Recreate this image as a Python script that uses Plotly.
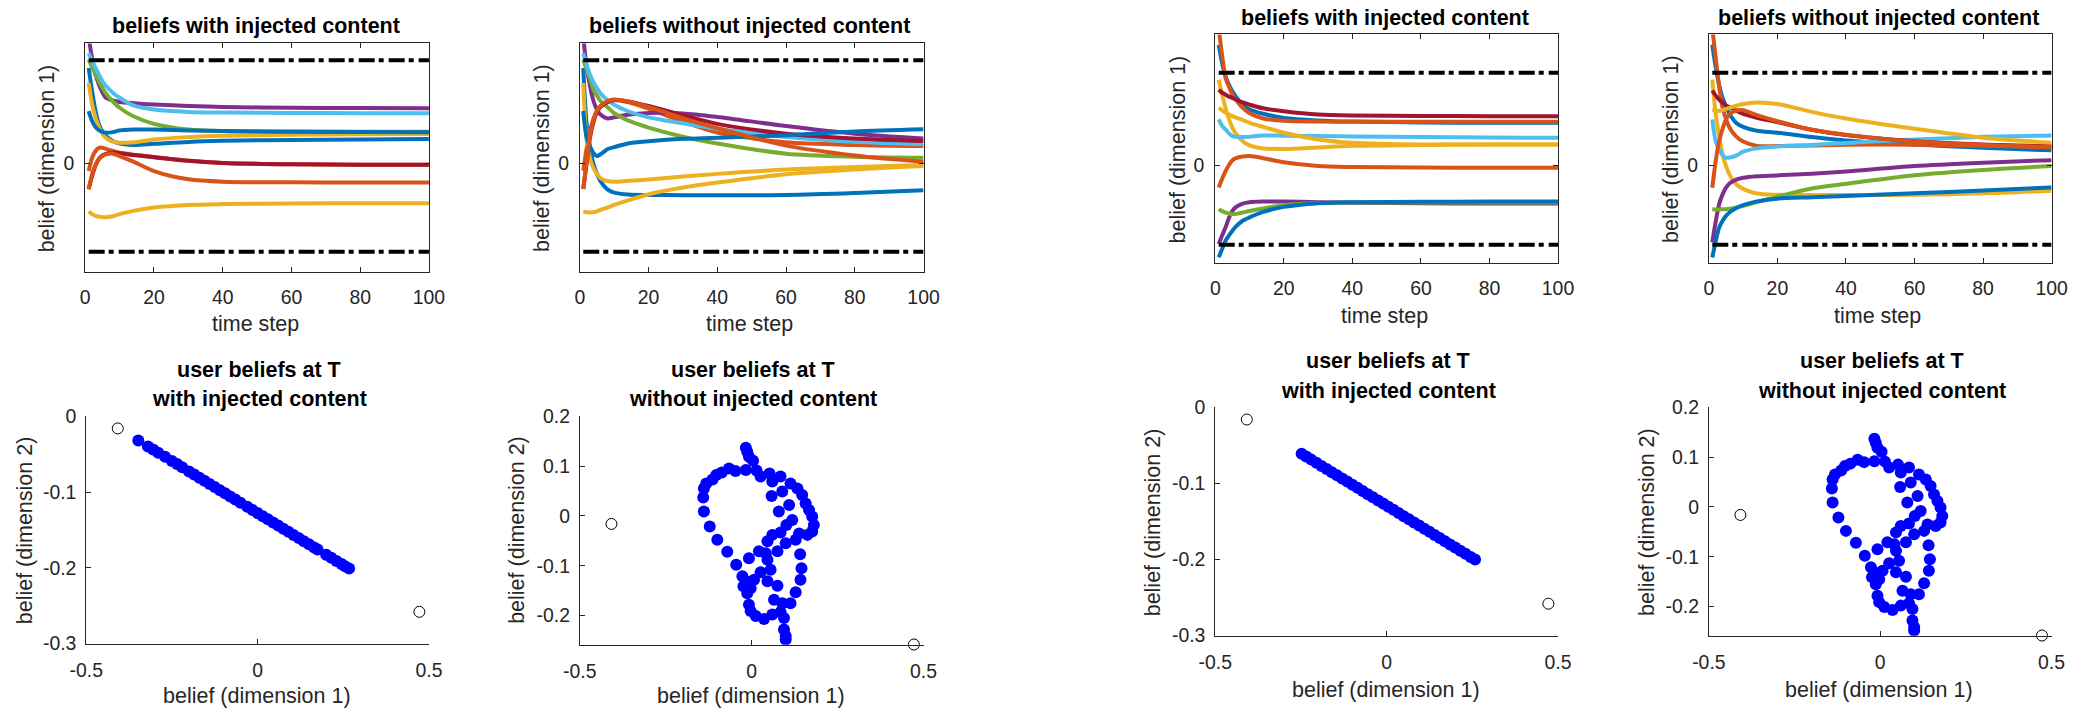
import plotly.graph_objects as go

W, H = 2084, 713

# ---------------- data ----------------
TIME = [1, 2, 3, 4, 5, 6, 8, 10, 14, 20, 30, 40, 60, 80, 100]
LINE_COLORS = ["#0072BD", "#D95319", "#EDB120", "#7E2F8E", "#77AC30",
               "#4DBEEE", "#A2142F", "#0072BD", "#D95319", "#EDB120"]

# injected content positions (dimension 1, dimension 2)
CONTENT_D1 = [-0.408, 0.472]
CONTENT_D2 = [-0.016, -0.258]

# run A, with injected content (10 users)
A_WITH = [
    [0.437, 0.33, 0.239, 0.177, 0.145, 0.124, 0.101, 0.09, 0.083, 0.088, 0.097, 0.102, 0.106, 0.108, 0.11],
    [-0.037, 0.024, 0.055, 0.07, 0.07, 0.065, 0.055, 0.047, 0.038, 0.028, 0.01, 0.0, -0.006, -0.008, -0.008],
    [0.368, 0.269, 0.208, 0.165, 0.135, 0.115, 0.098, 0.093, 0.095, 0.108, 0.119, 0.125, 0.13, 0.132, 0.133],
    [0.58, 0.48, 0.407, 0.36, 0.325, 0.3, 0.288, 0.281, 0.275, 0.269, 0.262, 0.258, 0.254, 0.253, 0.252],
    [0.476, 0.44, 0.407, 0.375, 0.346, 0.32, 0.284, 0.254, 0.215, 0.18, 0.154, 0.147, 0.145, 0.144, 0.144],
    [0.506, 0.47, 0.437, 0.405, 0.376, 0.355, 0.323, 0.30, 0.265, 0.246, 0.235, 0.232, 0.23, 0.229, 0.229],
    [-0.12, -0.06, -0.01, 0.02, 0.035, 0.042, 0.048, 0.045, 0.037, 0.026, 0.01, 0.0, -0.006, -0.008, -0.008],
    [0.239, 0.193, 0.165, 0.15, 0.143, 0.139, 0.142, 0.15, 0.154, 0.154, 0.15, 0.147, 0.144, 0.142, 0.141],
    [-0.121, -0.052, -0.01, 0.017, 0.032, 0.04, 0.043, 0.032, 0.006, -0.037, -0.075, -0.086, -0.089, -0.09, -0.09],
    [-0.223, -0.235, -0.243, -0.247, -0.249, -0.249, -0.245, -0.235, -0.22, -0.205, -0.193, -0.189, -0.186, -0.185, -0.185],
]

# run A, without injected content
A_WITHOUT = [
    [0.437, 0.177, 0.07, -0.006, -0.05, -0.083, -0.121, -0.136, -0.145, -0.147, -0.148, -0.148, -0.147, -0.138, -0.125],
    [-0.035, 0.07, 0.15, 0.205, 0.24, 0.26, 0.282, 0.29, 0.28, 0.25, 0.19, 0.14, 0.095, 0.083, 0.078],
    [0.368, 0.101, 0.02, -0.025, -0.05, -0.07, -0.083, -0.086, -0.082, -0.076, -0.062, -0.05, -0.03, -0.018, -0.009],
    [0.58, 0.44, 0.35, 0.284, 0.245, 0.223, 0.205, 0.21, 0.222, 0.23, 0.228, 0.212, 0.17, 0.135, 0.113],
    [0.476, 0.43, 0.384, 0.335, 0.31, 0.285, 0.258, 0.229, 0.196, 0.163, 0.121, 0.09, 0.043, 0.029, 0.024],
    [0.506, 0.45, 0.405, 0.37, 0.343, 0.32, 0.29, 0.268, 0.238, 0.21, 0.183, 0.158, 0.12, 0.098, 0.086],
    [-0.12, 0.0, 0.12, 0.19, 0.235, 0.258, 0.28, 0.289, 0.283, 0.262, 0.22, 0.18, 0.135, 0.113, 0.101],
    [0.239, 0.116, 0.075, 0.045, 0.032, 0.04, 0.063, 0.073, 0.09, 0.1, 0.111, 0.116, 0.128, 0.145, 0.155],
    [-0.12, 0.01, 0.13, 0.2, 0.24, 0.262, 0.284, 0.292, 0.283, 0.258, 0.205, 0.16, 0.08, 0.035, 0.006],
    [-0.223, -0.226, -0.228, -0.226, -0.222, -0.215, -0.205, -0.193, -0.172, -0.144, -0.113, -0.09, -0.052, -0.03, -0.014],
]

# run B, with injected content
B_WITH = [
    [0.615, 0.52, 0.453, 0.41, 0.377, 0.35, 0.309, 0.284, 0.262, 0.241, 0.228, 0.222, 0.218, 0.216, 0.216],
    [0.70, 0.56, 0.445, 0.40, 0.36, 0.335, 0.292, 0.265, 0.238, 0.226, 0.222, 0.221, 0.221, 0.221, 0.221],
    [0.436, 0.36, 0.292, 0.235, 0.19, 0.16, 0.122, 0.1, 0.085, 0.082, 0.09, 0.098, 0.103, 0.105, 0.105],
    [-0.404, -0.36, -0.319, -0.27, -0.234, -0.215, -0.197, -0.19, -0.187, -0.187, -0.19, -0.193, -0.196, -0.197, -0.197],
    [-0.226, -0.236, -0.243, -0.248, -0.251, -0.25, -0.243, -0.235, -0.222, -0.206, -0.194, -0.192, -0.192, -0.192, -0.192],
    [0.233, 0.2, 0.182, 0.162, 0.148, 0.145, 0.143, 0.145, 0.151, 0.15, 0.148, 0.146, 0.143, 0.141, 0.139],
    [0.385, 0.37, 0.36, 0.35, 0.343, 0.335, 0.32, 0.309, 0.29, 0.275, 0.258, 0.253, 0.251, 0.25, 0.25],
    [-0.472, -0.43, -0.387, -0.36, -0.336, -0.315, -0.285, -0.268, -0.24, -0.214, -0.195, -0.19, -0.188, -0.187, -0.187],
    [-0.115, -0.07, -0.031, 0.0, 0.024, 0.035, 0.044, 0.046, 0.035, 0.014, -0.005, -0.01, -0.013, -0.014, -0.014],
    [0.292, 0.28, 0.267, 0.258, 0.25, 0.243, 0.23, 0.216, 0.195, 0.165, 0.131, 0.114, 0.105, 0.105, 0.105],
]

# run B, without injected content
B_WITHOUT = [
    [0.616, 0.5, 0.41, 0.344, 0.3, 0.262, 0.215, 0.195, 0.175, 0.165, 0.143, 0.126, 0.105, 0.088, 0.075],
    [0.70, 0.55, 0.40, 0.293, 0.235, 0.192, 0.145, 0.12, 0.098, 0.097, 0.1, 0.104, 0.104, 0.098, 0.092],
    [0.437, 0.26, 0.15, 0.054, -0.005, -0.048, -0.1, -0.122, -0.146, -0.152, -0.153, -0.153, -0.152, -0.145, -0.132],
    [-0.396, -0.29, -0.2, -0.15, -0.116, -0.095, -0.075, -0.065, -0.057, -0.053, -0.045, -0.033, -0.005, 0.012, 0.025],
    [-0.226, -0.227, -0.227, -0.226, -0.226, -0.224, -0.218, -0.209, -0.19, -0.162, -0.12, -0.096, -0.052, -0.025, -0.005],
    [0.233, 0.122, 0.08, 0.05, 0.037, 0.038, 0.048, 0.068, 0.085, 0.095, 0.103, 0.113, 0.13, 0.144, 0.151],
    [0.381, 0.355, 0.335, 0.318, 0.305, 0.295, 0.278, 0.262, 0.242, 0.22, 0.18, 0.153, 0.122, 0.105, 0.097],
    [-0.473, -0.39, -0.32, -0.285, -0.26, -0.243, -0.22, -0.205, -0.186, -0.172, -0.165, -0.158, -0.145, -0.13, -0.115],
    [-0.116, 0.02, 0.122, 0.185, 0.233, 0.26, 0.279, 0.28, 0.255, 0.224, 0.18, 0.155, 0.12, 0.102, 0.092],
    [0.284, 0.28, 0.276, 0.28, 0.286, 0.292, 0.303, 0.312, 0.32, 0.312, 0.272, 0.238, 0.185, 0.14, 0.114],
]

# final beliefs at T, with injected content (run A)
FINAL_A_X = [-0.348, -0.32, -0.305, -0.29, -0.27, -0.25, -0.235, -0.22, -0.2, -0.185, -0.17, -0.155,
             -0.14, -0.125, -0.11, -0.095, -0.08, -0.065, -0.05, -0.03, -0.015, 0.0, 0.015, 0.03,
             0.045, 0.06, 0.075, 0.09, 0.105, 0.12, 0.135, 0.15, 0.165, 0.175, 0.2, 0.215, 0.23,
             0.245, 0.255, 0.267]
FINAL_A_Y = [-0.032, -0.0397, -0.0438, -0.048, -0.0535, -0.059, -0.063, -0.0672, -0.0727, -0.0768,
             -0.081, -0.0851, -0.0892, -0.0933, -0.0975, -0.1016, -0.1057, -0.1098, -0.114, -0.1195,
             -0.1236, -0.1277, -0.1318, -0.136, -0.1401, -0.1442, -0.1483, -0.1525, -0.1566, -0.1607,
             -0.1648, -0.169, -0.1731, -0.1758, -0.1827, -0.1868, -0.1909, -0.195, -0.1978, -0.201]

# final beliefs at T, with injected content (run B)
FINAL_B_X = [-0.248, -0.235, -0.22, -0.205, -0.19, -0.175, -0.16, -0.145, -0.13, -0.115, -0.1,
             -0.085, -0.07, -0.055, -0.04, -0.025, -0.01, 0.005, 0.02, 0.035, 0.05, 0.065, 0.08,
             0.095, 0.11, 0.125, 0.14, 0.155, 0.17, 0.185, 0.2, 0.215, 0.23, 0.245, 0.258]
FINAL_B_Y = [-0.061, -0.0646, -0.0687, -0.0728, -0.077, -0.0811, -0.0852, -0.0893, -0.0935, -0.0976,
             -0.1017, -0.1058, -0.11, -0.1141, -0.1182, -0.1223, -0.1265, -0.1306, -0.1347, -0.1388,
             -0.143, -0.1471, -0.1512, -0.1553, -0.1595, -0.1636, -0.1677, -0.1718, -0.176, -0.1801,
             -0.1842, -0.1883, -0.1925, -0.1966, -0.2]

# final beliefs at T, without injected content
CLOUD_X = [-0.017, -0.013, -0.008, 0.004, -0.017, -0.047, -0.066, -0.087, -0.103, -0.114, -0.132,
           -0.139, -0.141, -0.139, -0.122, -0.1, -0.071, -0.045, 0.014, 0.026, 0.052, 0.06, 0.084,
           0.113, 0.133, 0.147, 0.157, 0.167, 0.176, 0.181, 0.176, 0.162, 0.138, 0.058, 0.089,
           0.109, 0.079, 0.118, 0.101, 0.084, 0.06, 0.046, 0.075, 0.099, 0.128, 0.141, 0.145,
           0.142, 0.128, -0.008, 0.021, 0.041, 0.046, 0.055, 0.026, 0.007, -0.027, -0.024, -0.013,
           -0.008, -0.003, 0.012, 0.036, 0.06, 0.084, 0.094, 0.065, 0.089, 0.113, 0.075, 0.046,
           0.094, 0.099, 0.099, -0.017, -0.003]
CLOUD_Y = [0.137, 0.129, 0.119, 0.111, 0.092, 0.09, 0.095, 0.087, 0.082, 0.073, 0.065, 0.055,
           0.037, 0.009, -0.021, -0.048, -0.072, -0.098, 0.091, 0.079, 0.085, 0.069, 0.079, 0.065,
           0.055, 0.042, 0.025, 0.012, -0.001, -0.018, -0.031, -0.038, -0.035, 0.04, 0.049, 0.022,
           0.009, -0.008, -0.018, -0.033, -0.038, -0.051, -0.071, -0.055, -0.048, -0.077, -0.105,
           -0.128, -0.153, -0.085, -0.071, -0.075, -0.088, -0.108, -0.113, -0.128, -0.121, -0.141,
           -0.155, -0.178, -0.191, -0.201, -0.207, -0.198, -0.193, -0.205, -0.168, -0.175, -0.175,
           -0.14, -0.131, -0.228, -0.241, -0.248, -0.131, -0.145]

TIME_TICKS = [0, 20, 40, 60, 80, 100]
D1_TICKS = [-0.5, 0, 0.5]
D1_TICKTEXT = ["-0.5", "0", "0.5"]
D2_TICKS_WITH = [-0.3, -0.2, -0.1, 0]
D2_TICKTEXT_WITH = ["-0.3", "-0.2", "-0.1", "0"]
D2_TICKS_WITHOUT = [-0.2, -0.1, 0, 0.1, 0.2]
D2_TICKTEXT_WITHOUT = ["-0.2", "-0.1", "0", "0.1", "0.2"]

# ---------------- layout helpers ----------------
FONT = "Liberation Sans, Arial, Helvetica, sans-serif"
AX_COLOR = "#262626"
# compensation for the slight shrink seen in the rendered capture
SX, OX = 0.985, 14.7
SY, OY = 0.972, 9.5
TICK_SIZE = 19.4
LABEL_SIZE = 21.5


def fx(px):
    return ((px - OX) / SX) / W


def fy(py):
    return 1 - ((py - OY) / SY) / H


def dom_x(l, r):
    return [fx(l), fx(r)]


def dom_y(t, b):
    return [fy(b), fy(t)]


fig = go.Figure()

top_panels = [
    (A_WITH, 1, (83, 427), (42, 271), [-0.5, 0.55]),
    (A_WITHOUT, 2, (578, 922), (42, 271), [-0.5, 0.55]),
    (B_WITH, 3, (1214, 1557), (33, 262), [-0.5, 0.668]),
    (B_WITHOUT, 4, (1708, 2051), (33, 262), [-0.5, 0.668]),
]

layout_axes = {}
for series, k, (xl, xr), (yt, yb), yr in top_panels:
    xa = "x" if k == 1 else f"x{k}"
    ya = "y" if k == 1 else f"y{k}"
    for i, vals in enumerate(series):
        fig.add_trace(go.Scatter(
            x=TIME, y=vals, mode="lines", xaxis=xa, yaxis=ya,
            line=dict(color=LINE_COLORS[i], width=4, shape="spline", smoothing=0.8),
            showlegend=False, hoverinfo="skip"))
    for c in CONTENT_D1:
        fig.add_trace(go.Scatter(
            x=[TIME[0], TIME[-1]], y=[c, c], mode="lines", xaxis=xa, yaxis=ya,
            line=dict(color="black", width=4, dash="16px,4px,5px,5px"),
            showlegend=False, hoverinfo="skip"))
    layout_axes[f"xaxis{'' if k == 1 else k}"] = dict(
        domain=dom_x(xl, xr), range=[0, 100], anchor=ya,
        tickvals=TIME_TICKS, ticks="inside", ticklen=5, tickcolor=AX_COLOR,
        showline=True, linecolor=AX_COLOR, linewidth=1, mirror="ticks",
        showgrid=False, zeroline=False, ticklabelstandoff=8,
        tickfont=dict(family=FONT, size=TICK_SIZE, color=AX_COLOR))
    layout_axes[f"yaxis{'' if k == 1 else k}"] = dict(
        domain=dom_y(yt, yb), range=yr, anchor=xa,
        tickvals=[0], ticktext=["0"], ticks="inside", ticklen=5, tickcolor=AX_COLOR,
        showline=True, linecolor=AX_COLOR, linewidth=1, mirror="ticks",
        showgrid=False, zeroline=False, ticklabelstandoff=6,
        tickfont=dict(family=FONT, size=TICK_SIZE, color=AX_COLOR))

bottom_panels = [
    (FINAL_A_X, FINAL_A_Y, 5, (84, 427), (416, 644), [-0.3, 0], D2_TICKS_WITH, D2_TICKTEXT_WITH),
    (CLOUD_X, CLOUD_Y, 6, (578, 922), (416, 645), [-0.2583, 0.2], D2_TICKS_WITHOUT, D2_TICKTEXT_WITHOUT),
    (FINAL_B_X, FINAL_B_Y, 7, (1214, 1557), (407, 636), [-0.3, 0], D2_TICKS_WITH, D2_TICKTEXT_WITH),
    (CLOUD_X, CLOUD_Y, 8, (1708, 2051), (407, 636), [-0.2583, 0.2], D2_TICKS_WITHOUT, D2_TICKTEXT_WITHOUT),
]
for bx, by, k, (xl, xr), (yt, yb), yr, tv, tt in bottom_panels:
    xa, ya = f"x{k}", f"y{k}"
    fig.add_trace(go.Scatter(
        x=bx, y=by, mode="markers", xaxis=xa, yaxis=ya,
        marker=dict(color="#0000FF", size=12, line=dict(width=0)),
        showlegend=False, hoverinfo="skip"))
    fig.add_trace(go.Scatter(
        x=CONTENT_D1, y=CONTENT_D2, mode="markers", xaxis=xa, yaxis=ya, cliponaxis=False,
        marker=dict(color="rgba(0,0,0,0)", size=11, line=dict(color="black", width=1)),
        showlegend=False, hoverinfo="skip"))
    layout_axes[f"xaxis{k}"] = dict(
        domain=dom_x(xl, xr), range=[-0.5, 0.5], anchor=ya,
        tickvals=D1_TICKS, ticktext=D1_TICKTEXT, ticks="inside", ticklen=5, tickcolor=AX_COLOR,
        showline=True, linecolor=AX_COLOR, linewidth=1, mirror=False,
        showgrid=False, zeroline=False, ticklabelstandoff=9,
        tickfont=dict(family=FONT, size=TICK_SIZE, color=AX_COLOR))
    layout_axes[f"yaxis{k}"] = dict(
        domain=dom_y(yt, yb), range=yr, anchor=xa,
        tickvals=tv, ticktext=tt, ticks="inside", ticklen=5, tickcolor=AX_COLOR,
        showline=True, linecolor=AX_COLOR, linewidth=1, mirror=False,
        showgrid=False, zeroline=False, ticklabelstandoff=5,
        tickfont=dict(family=FONT, size=TICK_SIZE, color=AX_COLOR))

# ---------------- text ----------------
annotations = []


def add_text(text, px, py, bold=False, angle=0, color=AX_COLOR):
    annotations.append(dict(
        text=f"<b>{text}</b>" if bold else text,
        x=fx(px), y=fy(py), xref="paper", yref="paper",
        xanchor="center", yanchor="middle", showarrow=False, textangle=angle,
        font=dict(family=FONT, size=LABEL_SIZE, color=color)))


for t, x, y in [("beliefs with injected content", 254, 25),
                ("beliefs without injected content", 748, 25),
                ("beliefs with injected content", 1384, 17),
                ("beliefs without injected content", 1878, 17)]:
    add_text(t, x, y, bold=True, color="black")
for x, y in [(253, 323), (748, 323), (1383, 315), (1877, 315)]:
    add_text("time step", x, y)
for x, y in [(45, 157), (540, 157), (1177, 148), (1670, 148)]:
    add_text("belief (dimension 1)", x, y, angle=-90)

for (x, y1, y2, second) in [(257, 370, 399, "with injected content"),
                            (751, 370, 399, "without injected content"),
                            (1387, 361, 391, "with injected content"),
                            (1881, 361, 391, "without injected content")]:
    add_text("user beliefs at T", x, y1, bold=True, color="black")
    add_text(second, x, y2, bold=True, color="black")
for x, y in [(255, 697), (749, 697), (1385, 690), (1878, 690)]:
    add_text("belief (dimension 1)", x, y)
for x, y in [(23, 530), (515, 530), (1152, 522), (1646, 522)]:
    add_text("belief (dimension 2)", x, y, angle=-90)

fig.update_layout(
    width=W, height=H, margin=dict(l=0, r=0, t=0, b=0),
    paper_bgcolor="white", plot_bgcolor="white",
    showlegend=False, annotations=annotations,
    font=dict(family=FONT, color=AX_COLOR),
    **layout_axes)

fig.write_html("out.html", config={"displayModeBar": False},
               post_script="document.body.style.margin='0';document.body.style.overflow='hidden';")
